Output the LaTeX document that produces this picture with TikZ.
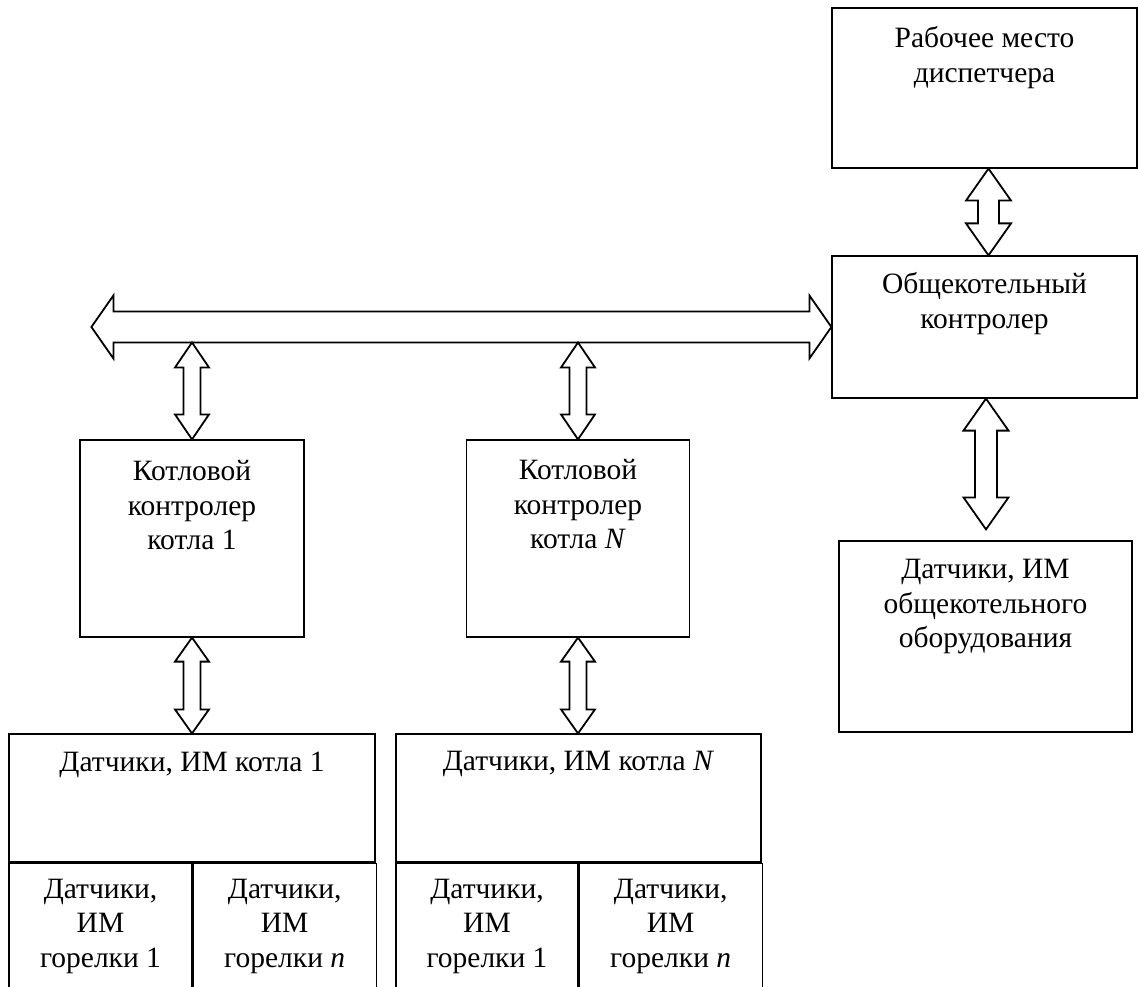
\documentclass[tikz,border=0pt]{standalone}
\usepackage{fontspec}
\setmainfont{Liberation Serif}
\usetikzlibrary{positioning, calc}

\tikzset{
	box/.style={draw, line width=1.2pt, inner sep=0pt},
	txt/.style={inner sep=0pt, align=center},
	pipe/.style={draw, line width=1.8pt, line join=miter, fill=white},
}

% fat two-way arrows: ends, half shaft, half head, head length
\newcommand{\vpipe}[5]{\draw[pipe] (#1) -- ++(#4,#5) -- ++(#3-#4,0) -- ($(#2)+(#3,-#5)$) -- ++(#4-#3,0) -- (#2) -- ++(-#4,-#5) -- ++(#4-#3,0) -- ($(#1)+(-#3,#5)$) -- ++(#3-#4,0) -- cycle;}
\newcommand{\hpipe}[5]{\draw[pipe] (#1) -- ++(#5,-#4) -- ++(0,#4-#3) -- ($(#2)+(-#5,-#3)$) -- ++(0,#3-#4) -- (#2) -- ++(-#5,#4) -- ++(0,#3-#4) -- ($(#1)+(#5,#3)$) -- ++(0,#4-#3) -- cycle;}

\begin{document}
\begin{tikzpicture}[x=1pt, y=-1pt, font=\fontsize{29.5}{34.5}\selectfont]
		\useasboundingbox (0,0) rectangle (1138,987);
		\clip (0,0) rectangle (1138,987);
		
		\node[box, minimum width=305pt, minimum height=160pt] (disp) at (984.5,88) {};
		\node[txt, below=19pt of disp.north] (dispT) {Рабочее место\\диспетчера};
		
		\node[box, minimum width=305pt, minimum height=142pt] (obsh) at (984.5,327) {};
		\node[txt, below=17pt of obsh.north] (obshT) {Общекотельный\\контролер};
		
		\node[box, minimum width=293pt, minimum height=191pt] (obor) at (985.5,636.5) {};
		\node[txt, below=19pt of obor.north] (oborT) {Датчики, ИМ\\общекотельного\\оборудования};
		
		\node[box, minimum width=224pt, minimum height=197pt] (kot1) at (192,538.5) {};
		\node[txt, below=21pt of kot1.north] (kot1T) {Котловой\\контролер\\котла 1};
		\node[box, minimum width=223pt, minimum height=197pt] (kotN) at (578,538.5) {};
		\node[txt, below=20pt of kotN.north] (kotNT) {Котловой\\контролер\\котла \textit{N}};
		
		% field devices, boiler 1
		\node[box, minimum width=366pt, minimum height=128pt] (dat1) at (192,798) {};
		\node[txt, below=18pt of dat1.north] (dat1T) {Датчики, ИМ котла 1};
		\node[box, minimum width=183pt, minimum height=140pt, anchor=north west] (g11) at (dat1.south west) {};
		\node[box, minimum width=183pt, minimum height=140pt, anchor=north west] (g1n) at (g11.north east) {};
		\node[txt, below=16pt of g11.north] {Датчики,\\ИМ\\горелки 1};
		\node[txt, below=16pt of g1n.north] {Датчики,\\ИМ\\горелки \textit{n}};
		
		% field devices, boiler N
		\node[box, minimum width=365pt, minimum height=128pt] (datN) at (578.5,798) {};
		\node[txt, below=18pt of datN.north] (datNT) {Датчики, ИМ котла \textit{N}};
		\node[box, minimum width=182pt, minimum height=140pt, anchor=north west] (gN1) at (datN.south west) {};
		\node[box, minimum width=183pt, minimum height=140pt, anchor=north west] (gNn) at (gN1.north east) {};
		\node[txt, below=16pt of gN1.north] {Датчики,\\ИМ\\горелки 1};
		\node[txt, below=16pt of gNn.north] {Датчики,\\ИМ\\горелки \textit{n}};
		
		% bus
		\coordinate (busL) at ([xshift=-740pt]obsh.west);
		\coordinate (busB) at ([yshift=-15.5pt]busL);
		\hpipe{busL}{obsh.west}{15.5}{31.5}{22}
		
		\coordinate (dispS) at ([xshift=4pt]disp.south);
		\coordinate (obshN) at ([xshift=4pt]obsh.north);
		\vpipe{dispS}{obshN}{10.5}{22.5}{32}
		\coordinate (obshS) at ([xshift=1.5pt]obsh.south);
		\coordinate (oborN) at ([yshift=11pt]obor.north);
		\vpipe{obshS}{oborN -| obshS}{11}{22.5}{32}
		
		\coordinate (tap1) at (kot1.north |- busB);
		\coordinate (tapN) at (kotN.north |- busB);
		\vpipe{tap1}{kot1.north}{8.5}{17}{25}
		\vpipe{tapN}{kotN.north}{8.5}{17}{25}
		\vpipe{kot1.south}{kot1.south |- dat1.north}{8.5}{17}{24}
		\vpipe{kotN.south}{kotN.south |- datN.north}{8.5}{17}{24}
		
\end{tikzpicture}
\end{document}
